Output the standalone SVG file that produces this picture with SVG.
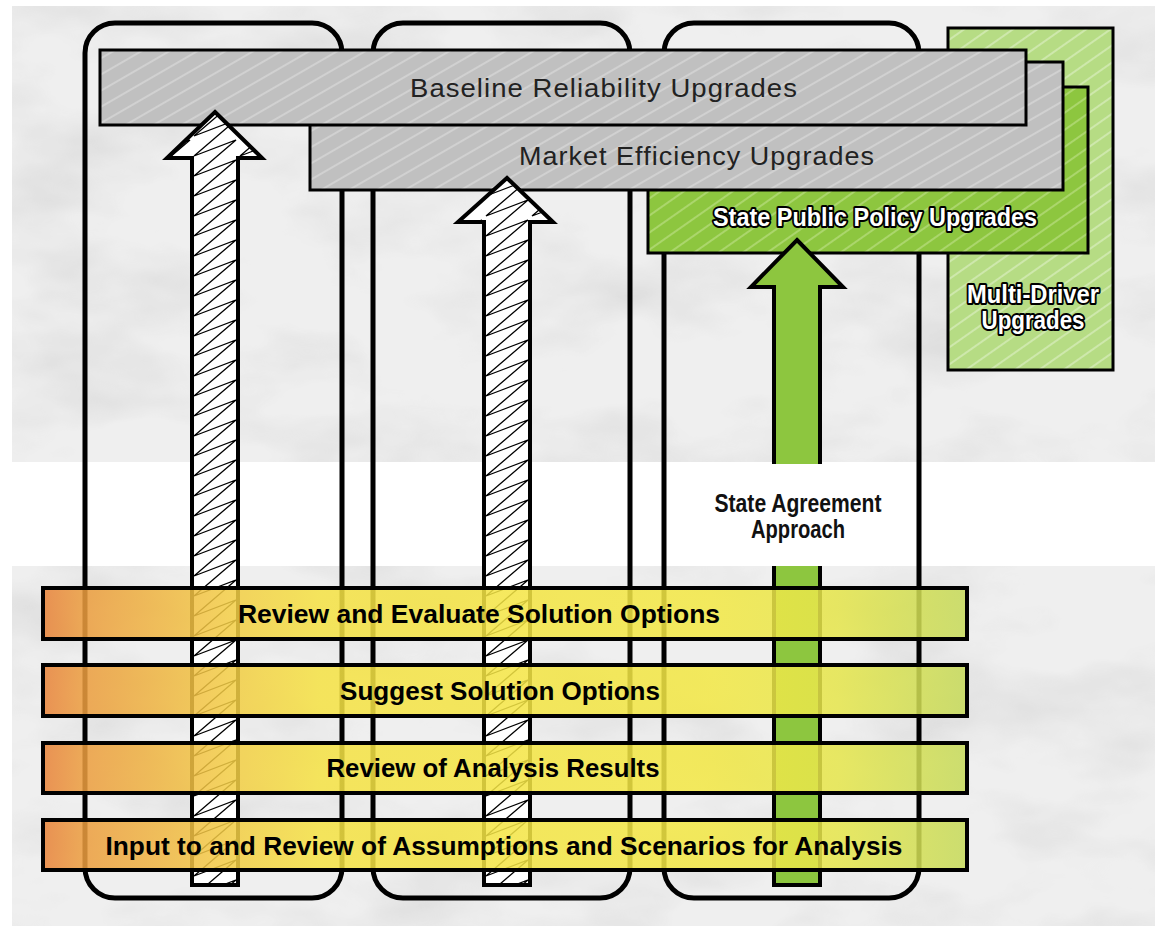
<svg xmlns="http://www.w3.org/2000/svg" width="1155" height="926" viewBox="0 0 1155 926">
<style>
.col{fill:none;stroke:#000;stroke-width:5}
.box{stroke:#000;stroke-width:3}
.arr{stroke:#000;stroke-width:4;stroke-linejoin:miter}
.bar{fill:url(#barGrad);fill-opacity:0.86;stroke:#000;stroke-width:4}
.bt{font-family:"Liberation Sans Narrow","Liberation Sans",Arial,sans-serif;font-weight:bold;font-size:26px;fill:#000;text-anchor:middle}
.gt{font-family:"Liberation Sans",Arial,sans-serif;font-size:26px;fill:#222;text-anchor:middle;letter-spacing:1px}
.wt{font-family:"Liberation Sans Narrow","Liberation Sans",Arial,sans-serif;font-weight:bold;font-size:25px;fill:#fff;stroke:#000;stroke-width:4;paint-order:stroke;stroke-linejoin:round;text-anchor:middle}
.kt{font-family:"Liberation Sans Narrow","Liberation Sans",Arial,sans-serif;font-weight:bold;font-size:25px;fill:#111;text-anchor:middle}
</style>
<defs>
<filter id="paper" x="0" y="0" width="100%" height="100%">
<feTurbulence type="fractalNoise" baseFrequency="0.006 0.012" numOctaves="4" seed="7" result="n"/>
<feColorMatrix in="n" type="matrix" values="0 0 0 0 0.5  0 0 0 0 0.5  0 0 0 0 0.5  0.9 0 0 0 -0.4" result="c"/>
<feComposite in="c" in2="SourceGraphic" operator="in" result="t"/>
<feMerge><feMergeNode in="SourceGraphic"/><feMergeNode in="t"/></feMerge>
</filter>
<linearGradient id="barGrad" gradientUnits="userSpaceOnUse" x1="43" y1="0" x2="967" y2="0">
<stop offset="0" stop-color="#e8823a"/>
<stop offset="0.04" stop-color="#ec9c3f"/>
<stop offset="0.2" stop-color="#f2cc45"/>
<stop offset="0.3" stop-color="#f5e244"/>
<stop offset="0.72" stop-color="#f3e845"/>
<stop offset="0.86" stop-color="#e6e64c"/>
<stop offset="1" stop-color="#c6da5a"/>
</linearGradient>
<pattern id="grayHatch" patternUnits="userSpaceOnUse" width="14" height="14" patternTransform="rotate(-30)">
<rect width="14" height="14" fill="#c0c0c0"/>
<line x1="0" y1="3" x2="14" y2="3" stroke="#d6d6d6" stroke-width="1.6"/>
</pattern>
<pattern id="greenHatch" patternUnits="userSpaceOnUse" width="14" height="14" patternTransform="rotate(-35)">
<rect width="14" height="14" fill="#8dc63f"/>
<line x1="0" y1="3" x2="14" y2="3" stroke="#b3da78" stroke-width="1.6"/>
</pattern>
<pattern id="lgreenHatch" patternUnits="userSpaceOnUse" width="14" height="14" patternTransform="rotate(-35)">
<rect width="14" height="14" fill="#b6dc84"/>
<line x1="0" y1="3" x2="14" y2="3" stroke="#d5ecb6" stroke-width="1.6"/>
</pattern>
<pattern id="zig1" patternUnits="userSpaceOnUse" x="192" y="0" width="46" height="20">
<path d="M44,-60 L2,-24 L44,-40 L2,-4 L44,-20 L2,16 L44,0 L2,36 L44,20 L2,56 L44,40" fill="none" stroke="#000" stroke-width="1.3"/>
</pattern>
<pattern id="zig2" patternUnits="userSpaceOnUse" x="484" y="0" width="46" height="20">
<path d="M44,-60 L2,-24 L44,-40 L2,-4 L44,-20 L2,16 L44,0 L2,36 L44,20 L2,56 L44,40" fill="none" stroke="#000" stroke-width="1.3"/>
</pattern>
<clipPath id="clipA1"><polygon points="215,112 262,158 238,158 238,885 192,885 192,158 167,158"/></clipPath>
<clipPath id="clipA2"><polygon points="507,178 553,222 530,222 530,885 484,885 484,222 458,222"/></clipPath>
</defs>

<g id="background">
<rect x="0" y="0" width="1155" height="926" fill="#fff"/>
<rect x="12" y="6" width="1143" height="456" fill="#efefef" filter="url(#paper)"/>
<rect x="12" y="566" width="1143" height="360" fill="#efefef" filter="url(#paper)"/>
</g>

<g id="columns">
<rect class="col" x="85" y="23" width="257" height="875" rx="30"/>
<rect class="col" x="373" y="23" width="257" height="875" rx="30"/>
<rect class="col" x="664" y="23" width="255" height="875" rx="30"/>
</g>

<g id="multi-driver">
<rect class="box" x="948" y="28" width="165" height="342" fill="url(#lgreenHatch)"/>
<text class="wt" x="1033" y="303" textLength="132" lengthAdjust="spacingAndGlyphs">Multi-Driver</text>
<text class="wt" x="1033" y="329" textLength="103" lengthAdjust="spacingAndGlyphs">Upgrades</text>
</g>

<g id="state-public-policy">
<rect class="box" x="648" y="87" width="440" height="166" fill="url(#greenHatch)"/>
<text class="wt" x="875" y="226" textLength="324" lengthAdjust="spacingAndGlyphs">State Public Policy Upgrades</text>
</g>

<g id="market-efficiency">
<rect class="box" x="310" y="62" width="753" height="128" fill="url(#grayHatch)"/>
<text class="gt" x="697" y="165" textLength="356" lengthAdjust="spacingAndGlyphs">Market Efficiency Upgrades</text>
</g>

<g id="baseline-reliability">
<rect class="box" x="100" y="50" width="926" height="75" fill="url(#grayHatch)"/>
<text class="gt" x="604" y="97" textLength="388" lengthAdjust="spacingAndGlyphs">Baseline Reliability Upgrades</text>
</g>

<g id="connectors">
<g id="arrow-baseline">
<polygon points="215,112 262,158 238,158 238,885 192,885 192,158 167,158" fill="#fff"/>
<rect x="160" y="110" width="110" height="780" fill="url(#zig1)" clip-path="url(#clipA1)"/>
<polygon class="arr" points="215,112 262,158 238,158 238,885 192,885 192,158 167,158" fill="none"/>
</g>
<g id="arrow-market">
<polygon points="507,178 553,222 530,222 530,885 484,885 484,222 458,222" fill="#fff"/>
<rect x="450" y="175" width="110" height="715" fill="url(#zig2)" clip-path="url(#clipA2)"/>
<polygon class="arr" points="507,178 553,222 530,222 530,885 484,885 484,222 458,222" fill="none"/>
</g>
<g id="arrow-state">
<polygon class="arr" points="797,240 843,287 820,287 820,885 774,885 774,287 751,287" fill="#8dc63f"/>
</g>
</g>

<g id="state-agreement">
<rect x="668" y="464" width="248" height="102" fill="#fff"/>
<text class="kt" x="798" y="512" textLength="167" lengthAdjust="spacingAndGlyphs">State Agreement</text>
<text class="kt" x="798" y="538" textLength="94" lengthAdjust="spacingAndGlyphs">Approach</text>
</g>

<g id="bar-review-evaluate">
<rect class="bar" x="43" y="588" width="924" height="51"/>
<text class="bt" x="479" y="623" textLength="482" lengthAdjust="spacingAndGlyphs">Review and Evaluate Solution Options</text>
</g>
<g id="bar-suggest">
<rect class="bar" x="43" y="665" width="924" height="51"/>
<text class="bt" x="500" y="700" textLength="320" lengthAdjust="spacingAndGlyphs">Suggest Solution Options</text>
</g>
<g id="bar-review-results">
<rect class="bar" x="43" y="743" width="924" height="50"/>
<text class="bt" x="493" y="777" textLength="333" lengthAdjust="spacingAndGlyphs">Review of Analysis Results</text>
</g>
<g id="bar-input">
<rect class="bar" x="43" y="820" width="924" height="50"/>
<text class="bt" x="504" y="855" textLength="797" lengthAdjust="spacingAndGlyphs">Input to and Review of Assumptions and Scenarios for Analysis</text>
</g>
</svg>
